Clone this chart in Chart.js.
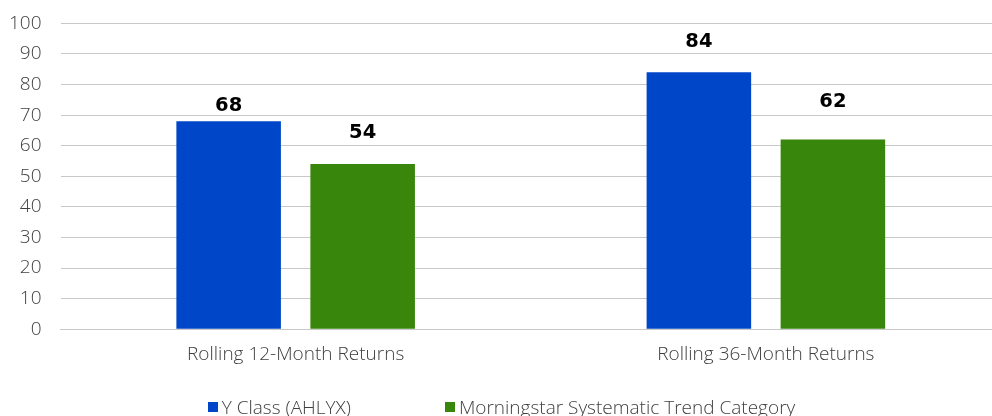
<!DOCTYPE html>
<html>
<head>
<meta charset="utf-8">
<script src="https://cdn.jsdelivr.net/npm/chart.js@4/dist/chart.umd.min.js"></script>
<style>
  html, body { margin: 0; padding: 0; background: #fff; overflow: hidden; }
  #wrap { position: relative; top: -7px; width: 1001px; height: 423px; }
  #legend {
    position: absolute; left: 1px; top: 401px; width: 1001px;
    display: flex; justify-content: center;
    font-family: "Open Sans", sans-serif; font-weight: 300; font-size: 19px; color: #404040;
  }
  #legend span.item { display: flex; align-items: center; margin: 0 47px; }
  #legend span.box { width: 10px; height: 10px; margin-right: 4px; display: inline-block; }
</style>
</head>
<body>
<div id="wrap">
  <canvas id="chart"></canvas>
  <div id="legend"></div>
</div>
<script>
// data
var categories = ['Rolling 12-Month Returns', 'Rolling 36-Month Returns'];
var seriesNames = ['Y Class (AHLYX)', 'Morningstar Systematic Trend Category'];
var yClassValues = [68, 84];
var categoryValues = [54, 62];
var seriesColors = ['#0046c8', '#38860b'];

// values written above each bar (the original places them by hand, so gaps differ)
var barLabels = {
  id: 'barLabels',
  afterDatasetsDraw: function(chart, args, opts) {
    var ctx = chart.ctx;
    ctx.save();
    ctx.font = 'bold 19.5px "DejaVu Sans", sans-serif';
    ctx.fillStyle = '#000';
    ctx.textAlign = 'center';
    ctx.textBaseline = 'middle';
    chart.data.datasets.forEach(function(ds, i) {
      chart.getDatasetMeta(i).data.forEach(function(bar, j) {
        ctx.fillText(ds.data[j], bar.x, bar.y - opts.gaps[i][j]);
      });
    });
    ctx.restore();
  }
};

var tickFont = { family: 'Open Sans', size: 19, weight: 300 };

var ctx = document.getElementById('chart');
var chart = new Chart(ctx, {
  type: 'bar',
  data: {
    labels: categories,
    datasets: [
      { label: seriesNames[0], data: yClassValues, backgroundColor: seriesColors[0] },
      { label: seriesNames[1], data: categoryValues, backgroundColor: seriesColors[1] }
    ]
  },
  options: {
    responsive: true,
    maintainAspectRatio: false,
    animation: false,
    categoryPercentage: 0.57,
    barPercentage: 0.78,
    layout: { padding: { left: -10, top: 3, right: 0, bottom: 44 } },
    plugins: {
      legend: { display: false },
      tooltip: { enabled: false },
      barLabels: { gaps: [[15, 30], [31, 38]] }
    },
    scales: {
      x: {
        grid: { display: false },
        border: { color: '#c8c8c8' },
        ticks: { color: '#404040', padding: 6, font: tickFont }
      },
      y: {
        min: 0,
        max: 100,
        ticks: { stepSize: 10, color: '#404040', padding: 19, font: tickFont },
        grid: { color: '#c8c8c8', drawTicks: false },
        border: { display: false }
      }
    }
  },
  plugins: [barLabels]
});

// legend kept as html so the wide spacing between items matches
var legendEl = document.getElementById('legend');
seriesNames.forEach(function(name, i) {
  var item = document.createElement('span');
  item.className = 'item';
  var box = document.createElement('span');
  box.className = 'box';
  box.style.background = seriesColors[i];
  item.appendChild(box);
  item.appendChild(document.createTextNode(name));
  legendEl.appendChild(item);
});
</script>
</body>
</html>
